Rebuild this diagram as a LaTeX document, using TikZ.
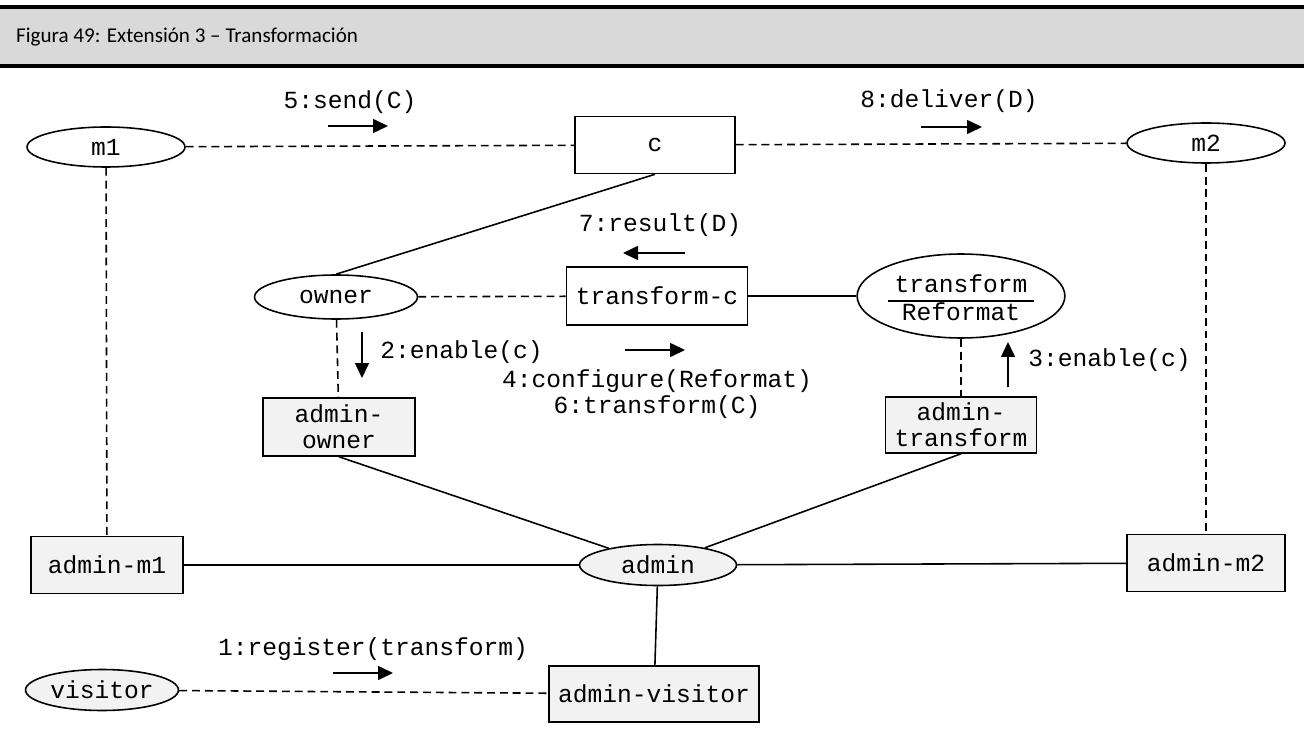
\documentclass[tikz,border=0pt]{standalone}
\usepackage{fontspec}
\setmonofont{Liberation Mono}
\newfontfamily\captionfont{Carlito}
\usetikzlibrary{shapes.geometric,arrows.meta}

\definecolor{bandgray}{HTML}{D9D9D9}
\definecolor{admgray}{HTML}{F2F2F2}
\setlength{\arrayrulewidth}{0.9pt}

\tikzset{
    obj/.style={draw, line width=0.9pt, fill=white, inner sep=0pt, align=center},
    role/.style={ellipse, draw, line width=0.9pt, fill=white, inner sep=0pt, align=center},
    admobj/.style={obj, fill=admgray},
    admrole/.style={role, fill=admgray},
    link/.style={line width=0.9pt},
    dlink/.style={line width=0.9pt, dash pattern=on 4.5pt off 2.8pt},
    msg/.style={line width=0.9pt, -{Triangle[length=0.3cm, width=0.28cm]}},
}

\begin{document}
\begin{tikzpicture}[x=0.02cm, y=-0.02cm, font=\ttfamily\fontsize{14}{15}\selectfont]
    \useasboundingbox (0,0) rectangle (1304,729);

    % caption band
    \fill[bandgray] (0,7) rectangle (1304,66);
    \draw[line width=1.8pt] (0,7) -- (1304,7);
    \draw[line width=1.8pt] (0,66) -- (1304,66);
    \node[anchor=west, font=\captionfont\fontsize{12}{14}\selectfont] (caption) at (10,37)
        {Figura 49: Extensión 3 – Transformación};

    % objects and roles
    \node[role, minimum width=3.16cm, minimum height=0.8cm] (m1) at (106,147) {m1};
    \node[obj, minimum width=3.2cm, minimum height=1.14cm] (c) at (655,145) {c};
    \node[role, minimum width=3.16cm, minimum height=0.8cm] (m2) at (1206,143) {m2};
    \node[role, minimum width=3.26cm, minimum height=0.88cm] (owner) at (336,297) {owner};
    \node[obj, minimum width=3.62cm, minimum height=1.16cm] (tc) at (657,296) {transform-c};
    \node[role, minimum width=4.06cm, minimum height=1.68cm] (tr) at (961,296)
        {\raisebox{-0.1cm}[\height][\depth]{\begin{tabular}{@{\hspace{4pt}}c@{\hspace{4pt}}}transform\\\hline Reformat\end{tabular}}};

    % administrators
    \node[admobj, minimum width=3.04cm, minimum height=1.16cm] (aowner) at (339,427) {admin-\\owner};
    \node[admobj, minimum width=3.02cm, minimum height=1.12cm] (atr) at (961,425) {admin-\\transform};
    \node[admobj, minimum width=3.04cm, minimum height=1.14cm] (am1) at (107,565) {admin-m1};
    \node[admrole, minimum width=3.14cm, minimum height=0.82cm] (admin) at (658,565) {admin};
    \node[admobj, minimum width=3.16cm, minimum height=1.14cm] (am2) at (1206,563) {admin-m2};
    \node[admobj, minimum width=4.2cm, minimum height=1.12cm] (avis) at (654,694) {admin-visitor};
    \node[admrole, minimum width=3.06cm, minimum height=0.82cm] (visitor) at (102,690) {visitor};

    % links
    \draw[dlink] (m1) -- (c);
    \draw[dlink] (c) -- (m2);
    \draw[dlink] (m1) -- (am1);
    \draw[dlink] (m2) -- (am2);
    \draw[link] (c.south) -- (owner.north);
    \draw[dlink] (owner) -- (tc);
    \draw[link] (tc) -- (tr);
    \draw[dlink] (owner) -- (aowner);
    \draw[dlink] (tr) -- (atr);
    \draw[link] (aowner.south) -- (admin);
    \draw[link] (atr.south) -- (admin);
    \draw[link] (am1) -- (admin);
    \draw[link] (admin) -- (am2);
    \draw[link] (admin) -- (avis);
    \draw[dlink] (visitor) -- (avis);

    % messages
    \node (l5) at (350,102) {5:send(C)};
    \coordinate (a5s) at (328,126);
    \coordinate (a5e) at (388,126);
    \draw[msg] (a5s) -- (a5e);

    \node (l8) at (949,101) {8:deliver(D)};
    \coordinate (a8s) at (921,127);
    \coordinate (a8e) at (982,127);
    \draw[msg] (a8s) -- (a8e);

    \node (l7) at (660,225) {7:result(D)};
    \coordinate (a7s) at (685,253);
    \coordinate (a7e) at (623,253);
    \draw[msg] (a7s) -- (a7e);

    \node[anchor=west, inner sep=0pt] (l2) at (380,352) {2:enable(c)};
    \coordinate (a2s) at (362,332);
    \coordinate (a2e) at (362,378);
    \draw[msg] (a2s) -- (a2e);

    \node[anchor=west, inner sep=0pt] (l3) at (1028,360) {3:enable(c)};
    \coordinate (a3s) at (1008,387);
    \coordinate (a3e) at (1008,342);
    \draw[msg] (a3s) -- (a3e);

    \node[align=center] (l46) at (657,394) {4:configure(Reformat)\\6:transform(C)};
    \coordinate (a4s) at (625,350);
    \coordinate (a4e) at (685,350);
    \draw[msg] (a4s) -- (a4e);

    \node (l1) at (373,649) {1:register(transform)};
    \coordinate (a1s) at (333,673);
    \coordinate (a1e) at (393,673);
    \draw[msg] (a1s) -- (a1e);
\end{tikzpicture}
\end{document}
